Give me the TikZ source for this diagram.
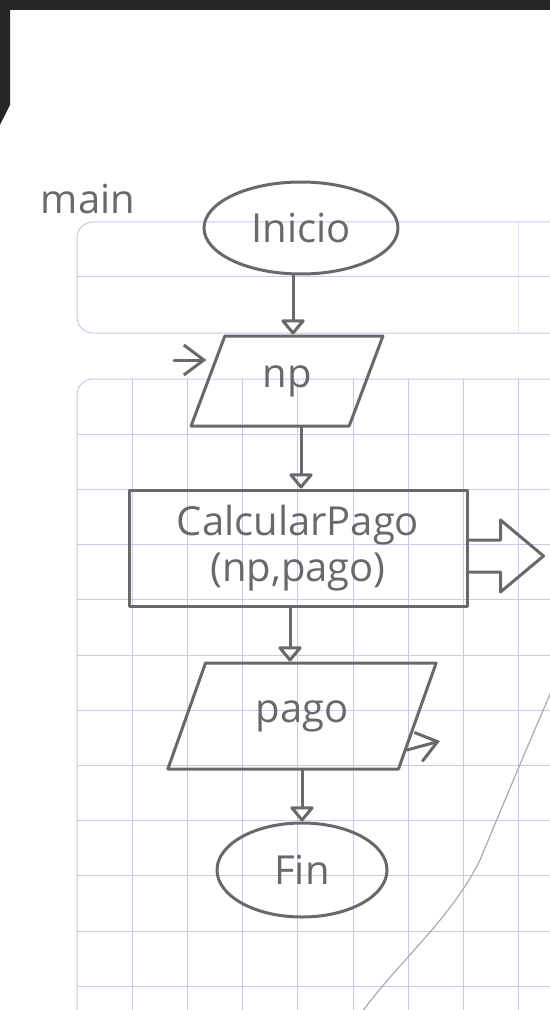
\documentclass[tikz,border=0pt]{standalone}
\usepackage{fontspec}
\setmainfont{Open Sans}
\usepackage{tikz}
\usetikzlibrary{shapes.geometric,arrows.meta}
\definecolor{pencil}{RGB}{105,105,105}
\definecolor{gridblue}{RGB}{196,202,236}
\definecolor{edge}{RGB}{38,38,38}

\begin{document}
\begin{tikzpicture}[x=0.5pt, y=-0.5pt,
    pen/.style={draw=pencil, line width=1.5pt, line join=round, line cap=round},
    gridline/.style={draw=gridblue, line width=0.5pt},
    term/.style={pen, ellipse, text=pencil, inner sep=0pt},
    io/.style={pen, trapezium, trapezium stretches=true, text=pencil, inner sep=0pt},
    proc/.style={pen, rectangle, text=pencil, align=center, inner sep=0pt},
    flow/.style={pen, -{Triangle[open, round, width=13pt, length=8pt]}},
    barb/.style={pen, -{Straight Barb[length=10pt, width=15pt]}},
    font=\fontsize{20}{23}\selectfont]
        \useasboundingbox (0,0) rectangle (550,1010);
        \fill[white] (0,0) rectangle (550,1010);

        \begin{scope}
            \clip (0,0) rectangle (550,1010);
            \begin{scope}
                \clip[rounded corners=8pt] (77,379) rectangle (700,1100);
                \foreach \i in {1,...,9} \draw[gridline] (77+55.2*\i,379) -- (77+55.2*\i,1010);
                \foreach \j in {1,...,12} \draw[gridline] (77,379+55.2*\j) -- (550,379+55.2*\j);
            \end{scope}
            \draw[gridline, rounded corners=8pt] (600,379) -- (77,379) -- (77,1100);
            \draw[gridline, rounded corners=8pt] (600,222) -- (77,222) -- (77,333) -- (600,333);
            \draw[gridline] (77,277) -- (550,277);
            \draw[gridline, opacity=0.5] (518,222) -- (518,333);
            \draw[pencil!55, line width=0.6pt] (552,690) .. controls (530,740) and (505,800) .. (480,860) .. controls (450,920) and (400,960) .. (362,1012);
        \end{scope}

        \fill[edge] (0,0) rectangle (550,10);
        \fill[edge] (0,0) -- (10,0) -- (10,105) -- (0,125) -- cycle;

        \draw (88,199) node(lbl)[text=pencil]{main};

        \draw (301,228) node(ini)[term, minimum width=97pt, minimum height=46pt]{Inicio};
        \draw (287,381) node(np)[io, trapezium left angle=67, trapezium right angle=113, minimum width=96pt, minimum height=45pt]{np};
        \draw (298,548) node(calc)[proc, minimum width=169pt, minimum height=58pt]{CalcularPago\\(np,pago)};
        \draw (302,716) node(pago)[io, trapezium left angle=60, trapezium right angle=120, minimum width=135pt, minimum height=53pt]{pago};
        \draw (302,870) node(fin)[term, minimum width=85pt, minimum height=47pt]{Fin};

        \draw[flow] ([xshift=-4pt]ini.south) -- ([xshift=-4pt]ini.south |- np.north);
        \draw[flow] ([xshift=7pt]np.south) -- ([xshift=7pt]np.south |- calc.north);
        \draw[flow] ([xshift=-4pt]calc.south) -- ([xshift=-4pt]calc.south |- pago.north);
        \draw[flow] (pago.south -| fin.north) -- (fin.north);

        \coordinate (in) at (174,360);
        \draw[barb] (in) -- (in -| np.west);
        \coordinate (out) at (440,741);
        \draw[barb] (pago.-18) -- (out);

        \coordinate (ret) at ([yshift=-4pt]calc.east);
        \draw[pen] (ret) ++(0,-16) -- ++(32,0) -- ++(0,-20) -- ++(43,36) -- ++(-43,36) -- ++(0,-20) -- ++(-32,0);
    \end{tikzpicture}
\end{document}
